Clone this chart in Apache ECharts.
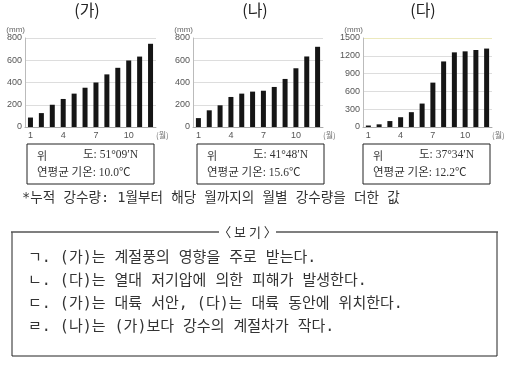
<!DOCTYPE html>
<html><head><meta charset="utf-8">
<script src="https://cdn.jsdelivr.net/npm/echarts@6/dist/echarts.min.js"></script>
<style>html,body{margin:0;padding:0;background:#fff}#c{width:507px;height:367px}</style>
</head><body><div id="c"></div>
<script>
const months = ['1','2','3','4','5','6','7','8','9','10','11','12'];
const titles = ['(가)', '(나)', '(다)'];
const seriesGa = [85, 125, 200, 252, 300, 353, 400, 473, 532, 598, 633, 748];
const seriesNa = [80, 150, 195, 270, 300, 318, 326, 360, 432, 528, 634, 721];
const seriesDa = [25, 45, 100, 165, 250, 395, 748, 1105, 1258, 1275, 1298, 1322];
const yMax = [800, 800, 1500];
const yInterval = [200, 200, 300];
const latitudes = ['51°09′N', '41°48′N', '37°34′N'];
const temps = ['10.0℃', '15.6℃', '12.2℃'];
const footnote = '*누적 강수량: 1월부터 해당 월까지의 월별 강수량을 더한 값';
const bogiTitle = '〈 보 기 〉';
const bogiItems = [
  'ㄱ. (가)는 계절풍의 영향을 주로 받는다.',
  'ㄴ. (다)는 열대 저기압에 의한 피해가 발생한다.',
  'ㄷ. (가)는 대륙 서안, (다)는 대륙 동안에 위치한다.',
  'ㄹ. (나)는 (가)보다 강수의 계절차가 작다.'
];

const allData = [seriesGa, seriesNa, seriesDa];
const gridLeft = [25, 193, 363];
const gridW = [131, 130, 129];
const serif = 'Liberation Serif, "Noto Sans CJK KR"';
const kr = '"Noto Sans CJK KR", sans-serif';
const mono = '"DejaVu Sans Mono", "Noto Sans CJK KR"';

const grids = [], xAxes = [], yAxes = [], series = [], graphic = [];
for (let i = 0; i < 3; i++) {
  grids.push({left: gridLeft[i], top: 38, width: gridW[i], height: 89});
  xAxes.push({
    type: 'category', gridIndex: i, data: months,
    axisTick: {show: false},
    axisLine: {lineStyle: {color: '#aaa', width: 1}},
    axisLabel: {interval: 2, color: '#555', fontSize: 9, margin: 4, fontFamily: 'Liberation Sans'},
    name: '(월)', nameLocation: 'end', nameGap: 0,
    nameTextStyle: {color: '#777', fontSize: 8, verticalAlign: 'top', padding: [4, 0, 0, 0], fontFamily: kr}
  });
  yAxes.push({
    type: 'value', gridIndex: i, min: 0, max: yMax[i], interval: yInterval[i],
    axisLine: {show: true, lineStyle: {color: '#bbb'}},
    axisTick: {show: false},
    splitLine: {lineStyle: {color: i === 2 ? ['#ddd','#ddd','#ddd','#ddd','#ddd','#ece9bd'] : '#ddd', width: 1}},
    axisLabel: {color: '#555', fontSize: 9, margin: 3, fontFamily: 'Liberation Sans', formatter: v => String(v)},
    name: '(mm)', nameLocation: 'end', nameGap: 4,
    nameTextStyle: {color: '#666', fontSize: 8, align: 'right', fontFamily: 'Liberation Sans'}
  });
  series.push({
    type: 'bar', xAxisIndex: i, yAxisIndex: i, data: allData[i],
    barWidth: 5, itemStyle: {color: '#151515'}, silent: true
  });
  const cx = [87, 255, 423][i];
  graphic.push({type: 'text', x: cx, y: 10,
    style: {text: titles[i], font: '16px ' + kr, fill: '#222', textAlign: 'center', textVerticalAlign: 'middle'}});
  const bx = [27, 197, 363][i];
  graphic.push({type: 'rect', shape: {x: bx, y: 144, width: 127, height: 40},
    style: {fill: '#fff', stroke: '#222', lineWidth: 1}});
  graphic.push({type: 'text', x: bx + 10, y: 156, style: {text: '위', font: '11px ' + kr, fill: '#333', textVerticalAlign: 'middle'}});
  graphic.push({type: 'text', x: bx + 56, y: 155, style: {text: '도: ' + latitudes[i], font: '11.5px ' + serif, fill: '#333', textVerticalAlign: 'middle'}});
  graphic.push({type: 'text', x: bx + 10, y: 173, style: {text: '연평균 기온: ' + temps[i], font: '11.5px ' + serif, fill: '#333', textVerticalAlign: 'middle'}});
}
graphic.push({type: 'text', x: 22, y: 198, style: {text: footnote, font: '13.6px ' + mono, fill: '#333', textVerticalAlign: 'middle'}});
// bogi box
graphic.push({type: 'polyline', shape: {points: [[12, 232], [12, 356], [497, 356], [497, 232]]},
  style: {stroke: '#222', lineWidth: 1, fill: null}});
graphic.push({type: 'line', shape: {x1: 11, y1: 232, x2: 219, y2: 232}, style: {stroke: '#555', lineWidth: 1.5}});
graphic.push({type: 'line', shape: {x1: 276, y1: 232, x2: 498, y2: 232}, style: {stroke: '#555', lineWidth: 1.5}});
graphic.push({type: 'text', x: 247.5, y: 232, style: {text: bogiTitle, font: '13px ' + kr, fill: '#333', textAlign: 'center', textVerticalAlign: 'middle'}});
bogiItems.forEach((t, k) => {
  graphic.push({type: 'text', x: 28, y: [258, 281, 304, 327][k], style: {text: t, font: '15px ' + mono, fill: '#333', textVerticalAlign: 'middle'}});
});

const chart = echarts.init(document.getElementById('c'), null, {renderer: 'canvas'});
chart.setOption({
  animation: false,
  grid: grids, xAxis: xAxes, yAxis: yAxes, series: series, graphic: graphic
});
</script></body></html>
